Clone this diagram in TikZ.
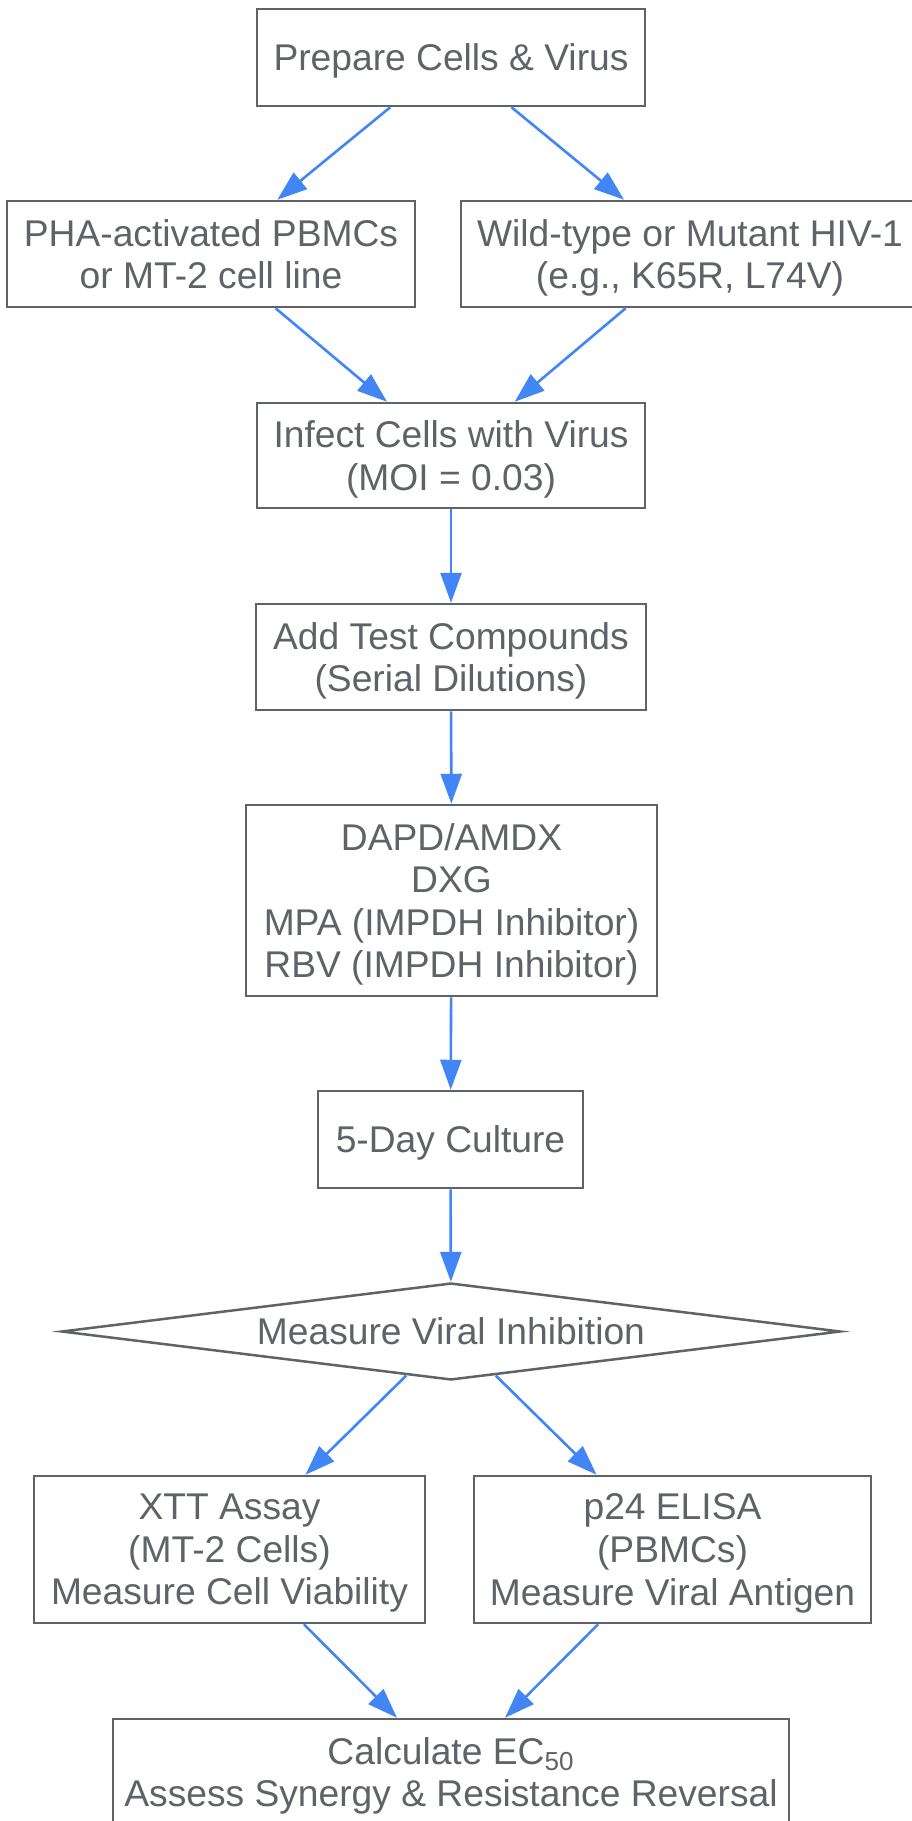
\documentclass[tikz,border=0pt]{standalone}
\usepackage{fontspec}
\setmainfont{Liberation Sans}
\usetikzlibrary{arrows.meta,shapes.geometric}
\newlength{\du}
\setlength{\du}{0.5pt}

\begin{document}
\begin{tikzpicture}[
  box/.style={draw=boxline, line width=1.25pt, fill=white, text=labeltext,
    align=center, inner sep=0pt, text depth=-1.5pt, font=\fontsize{18.6pt}{21.3pt}\selectfont},
  decide/.style={box, diamond, shape aspect=8.2},
  flow/.style={draw=flowblue, line width=1.3pt, -{Triangle[length=15pt,width=10.5pt]}}
]
\pgftransformxscale{1.000000}
\pgftransformyscale{-1.000000}
\definecolor{boxline}{rgb}{0.372549, 0.388235, 0.407843}
\definecolor{labeltext}{rgb}{0.372549, 0.388235, 0.407843}
\definecolor{flowblue}{rgb}{0.258824, 0.521569, 0.956863}
\useasboundingbox (0\du,0\du) rectangle (911\du,1821\du);
% nodes
\node[box, minimum width=388\du, minimum height=97\du] (prepare) at (451\du,57.5\du) {Prepare Cells \& Virus};
\node[box, minimum width=408\du, minimum height=106\du] (pbmc) at (211\du,254\du) {PHA-activated PBMCs\\or MT-2 cell line};
\node[box, minimum width=458\du, minimum height=106\du] (hiv) at (690\du,254\du) {Wild-type or Mutant HIV-1\\(e.g., K65R, L74V)};
\node[box, minimum width=388\du, minimum height=105\du] (infect) at (451\du,455.5\du) {Infect Cells with Virus\\(MOI = 0.03)};
\node[box, minimum width=390\du, minimum height=106\du] (addtest) at (451\du,657\du) {Add Test Compounds\\(Serial Dilutions)};
\node[box, minimum width=411\du, minimum height=191\du] (compounds) at (451.5\du,900.5\du) {DAPD/AMDX\\DXG\\MPA (IMPDH Inhibitor)\\RBV (IMPDH Inhibitor)};
\node[box, minimum width=265\du, minimum height=97\du] (culture) at (450.5\du,1139.5\du) {5-Day Culture};
\node[decide, minimum width=779\du, minimum height=97\du] (measure) at (451\du,1331.5\du) {Measure Viral Inhibition};
\node[box, minimum width=391\du, minimum height=147\du] (xtt) at (229.5\du,1549.5\du) {XTT Assay\\(MT-2 Cells)\\Measure Cell Viability};
\node[box, minimum width=397\du, minimum height=147\du] (elisa) at (672.5\du,1549.5\du) {p24 ELISA\\(PBMCs)\\Measure Viral Antigen};
\node[box, minimum width=676\du, minimum height=106\du] (calc) at (451\du,1772\du) {Calculate EC\textsubscript{50}\\Assess Synergy \& Resistance Reversal};
% connectors
\draw[flow] (prepare) -- (pbmc);
\draw[flow] (prepare) -- (hiv);
\draw[flow] (pbmc) -- (infect);
\draw[flow] (hiv) -- (infect);
\draw[flow] (infect) -- (addtest);
\draw[flow] (addtest) -- (compounds);
\draw[flow] (compounds) -- (culture);
\draw[flow] (culture) -- (measure);
\draw[flow] (measure) -- (xtt);
\draw[flow] (measure) -- (elisa);
\draw[flow] (xtt) -- (calc);
\draw[flow] (elisa) -- (calc);
\end{tikzpicture}
\end{document}
